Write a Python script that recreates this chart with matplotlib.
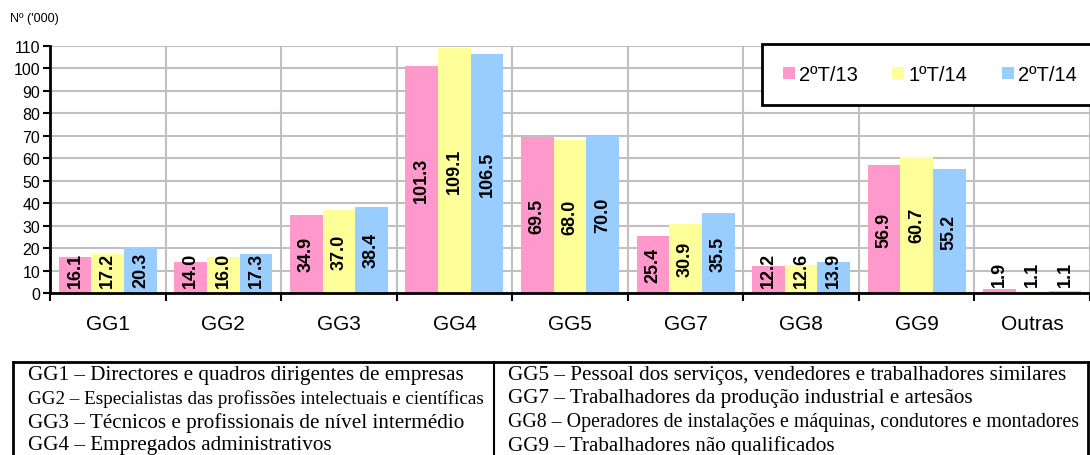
import matplotlib.pyplot as plt
from matplotlib.patches import Patch
import numpy as np

# data
categories = ['GG1', 'GG2', 'GG3', 'GG4', 'GG5', 'GG7', 'GG8', 'GG9', 'Outras']
series_names = ['2ºT/13', '1ºT/14', '2ºT/14']
t2_13 = [16.1, 14.0, 34.9, 101.3, 69.5, 25.4, 12.2, 56.9, 1.9]
t1_14 = [17.2, 16.0, 37.0, 109.1, 68.0, 30.9, 12.6, 60.7, 1.1]
t2_14 = [20.3, 17.3, 38.4, 106.5, 70.0, 35.5, 13.9, 55.2, 1.1]
colors = ['#FF99CC', '#FFFF99', '#99CCFF']
y_ticks = list(range(0, 111, 10))

legend_left = [
    'GG1 – Directores e quadros dirigentes de empresas',
    'GG2 – Especialistas das profissões intelectuais e científicas',
    'GG3 – Técnicos e profissionais de nível intermédio',
    'GG4 – Empregados administrativos',
]
legend_right = [
    'GG5 – Pessoal dos serviços, vendedores e trabalhadores similares',
    'GG7 – Trabalhadores da produção industrial e artesãos',
    'GG8 – Operadores de instalações e máquinas, condutores e montadores',
    'GG9 – Trabalhadores não qualificados',
]

plt.rcParams['font.family'] = ['Liberation Sans', 'DejaVu Sans']

W, H = 1090, 456
fig = plt.figure(figsize=(W / 100, H / 100), dpi=100)
ax = fig.add_axes([50 / W, 1 - 294 / H, 1040 / W, 247 / H])

x = np.arange(len(categories))
width = 0.283
all_series = [t2_13, t1_14, t2_14]

for k, vals in enumerate(all_series):
    pos = x + (k - 1) * width
    ax.bar(pos, vals, width, color=colors[k], zorder=2)
    for p, v in zip(pos, vals):
        txt = f'{v:.1f}'
        h = len(txt) * 3.9  # rough label length in data units
        yc = max(v / 2, 2.8 + h / 2)
        ax.text(p, yc, txt, rotation=90, ha='center', va='center',
                fontsize=13, fontweight='bold', zorder=3)

ax.set_xlim(-0.5, len(categories) - 0.5)
ax.set_ylim(0, 110)
ax.set_yticks(y_ticks)
ax.tick_params(axis='y', labelsize=11.5, length=5, width=1.5, pad=2)

ax.set_xticks(x)
ax.set_xticklabels(categories, fontsize=15)
ax.tick_params(axis='x', which='major', length=0, pad=15)
ax.set_xticks(np.arange(-0.5, len(categories), 1), minor=True)
ax.tick_params(axis='x', which='minor', length=6, width=1.5, direction='out')

ax.set_axisbelow(True)
ax.grid(axis='y', which='major', color='#C0C0C0', linewidth=1.5)
ax.grid(axis='x', which='minor', color='#C0C0C0', linewidth=1.5)

for s in ['top', 'right']:
    ax.spines[s].set_visible(False)
for s in ['left', 'bottom']:
    ax.spines[s].set_linewidth(2)
    ax.spines[s].set_zorder(4)

fig.text(10 / W, 1 - 19 / H, "Nº ('000)", fontsize=9, va='center')

handles = [Patch(facecolor=c, edgecolor='none') for c in colors]
leg = fig.legend(handles, series_names, loc='upper left',
                 bbox_to_anchor=(762 / W, 1 - 45 / H), ncol=3, fontsize=14.5,
                 frameon=True, fancybox=False, edgecolor='black', framealpha=1,
                 handlelength=0.6, handleheight=0.6, handletextpad=0.2,
                 columnspacing=1.7, borderpad=1.05, borderaxespad=0)
leg.get_frame().set_linewidth(2)

# description box under the chart, in pixel coordinates
tab = fig.add_axes([0, 0, 1, 1])
tab.set_xlim(0, W)
tab.set_ylim(H, 0)
tab.axis('off')
tab.plot([13, 1088], [363, 363], color='black', lw=2)
tab.plot([13, 13], [363, H], color='black', lw=2)
tab.plot([1088, 1088], [363, H], color='black', lw=2)
tab.plot([494, 494], [363, H], color='black', lw=1.5)

rows_y = [376, 399, 423, 446]
fig.canvas.draw()
renderer = fig.canvas.get_renderer()
for col_x, max_w, lines in [(28, 458, legend_left), (508, 572, legend_right)]:
    for yy, line in zip(rows_y, lines):
        t = tab.text(col_x, yy, line, fontsize=15.2, va='center', ha='left',
                     family='Liberation Serif')
        w = t.get_window_extent(renderer).width
        if w > max_w:
            t.set_fontsize(15.2 * max_w / w)

fig.savefig('out.png', dpi=100)
